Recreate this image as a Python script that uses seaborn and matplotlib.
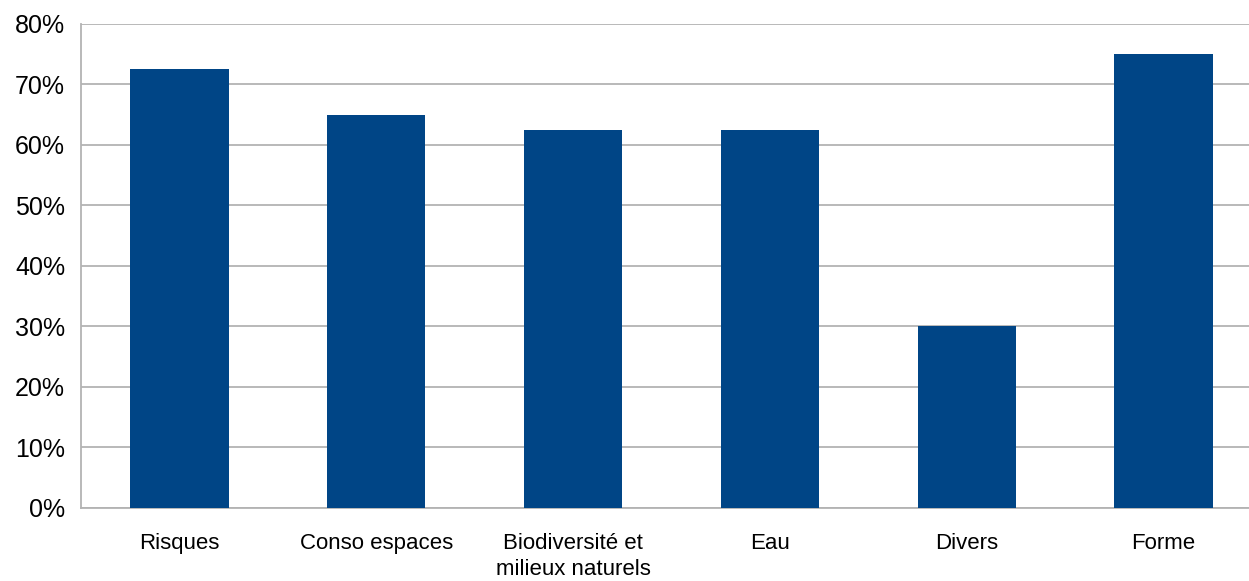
import numpy as np
import pandas as pd
import matplotlib.pyplot as plt
import matplotlib.ticker as mticker
import seaborn as sns

# données
categories = ["Risques", "Conso espaces", "Biodiversité et\nmilieux naturels", "Eau", "Divers", "Forme"]
valeurs = [0.725, 0.65, 0.625, 0.625, 0.30, 0.75]
yticks = [0, 0.1, 0.2, 0.3, 0.4, 0.5, 0.6, 0.7, 0.8]

df = pd.DataFrame({"categorie": categories, "valeur": valeurs})

sns.set_style("white")
plt.rcParams["font.family"] = ["Liberation Sans", "DejaVu Sans"]

GRIS = "#b3b3b3"

fig = plt.figure(figsize=(12.49, 5.81), dpi=100)
ax = fig.add_axes([0.0649, 0.1265, 0.9455, 0.8322])

sns.barplot(data=df, x="categorie", y="valeur", color="#004586",
            saturation=1, width=0.5, linewidth=0, ax=ax, zorder=3)

ax.set_ylim(0, 0.8)
ax.set_xlim(-0.5, len(categories) - 0.5)
ax.set_yticks(yticks)
ax.yaxis.set_major_formatter(mticker.PercentFormatter(1.0, decimals=0))
ax.grid(axis="y", color=GRIS, linewidth=1.3, zorder=0)
ax.set_axisbelow(True)

# graduations en x entre les catégories
ax.set_xticks(np.arange(-0.5, len(categories), 1.0), minor=True)
ax.tick_params(axis="x", which="major", length=0, pad=18, labelsize=16, labelcolor="black")
ax.tick_params(axis="x", which="minor", length=7.5, width=1.3, color=GRIS)
ax.tick_params(axis="y", length=7.5, width=1.3, color=GRIS, pad=4, labelsize=18, labelcolor="black")
for lbl in ax.get_xticklabels():
    lbl.set_linespacing(1.35)

ax.set_xlabel("")
ax.set_ylabel("")
for s in ["top", "right"]:
    ax.spines[s].set_visible(False)
for s in ["left", "bottom"]:
    ax.spines[s].set_color(GRIS)
    ax.spines[s].set_linewidth(1.3)

fig.savefig("out.png", dpi=100)
plt.close()
